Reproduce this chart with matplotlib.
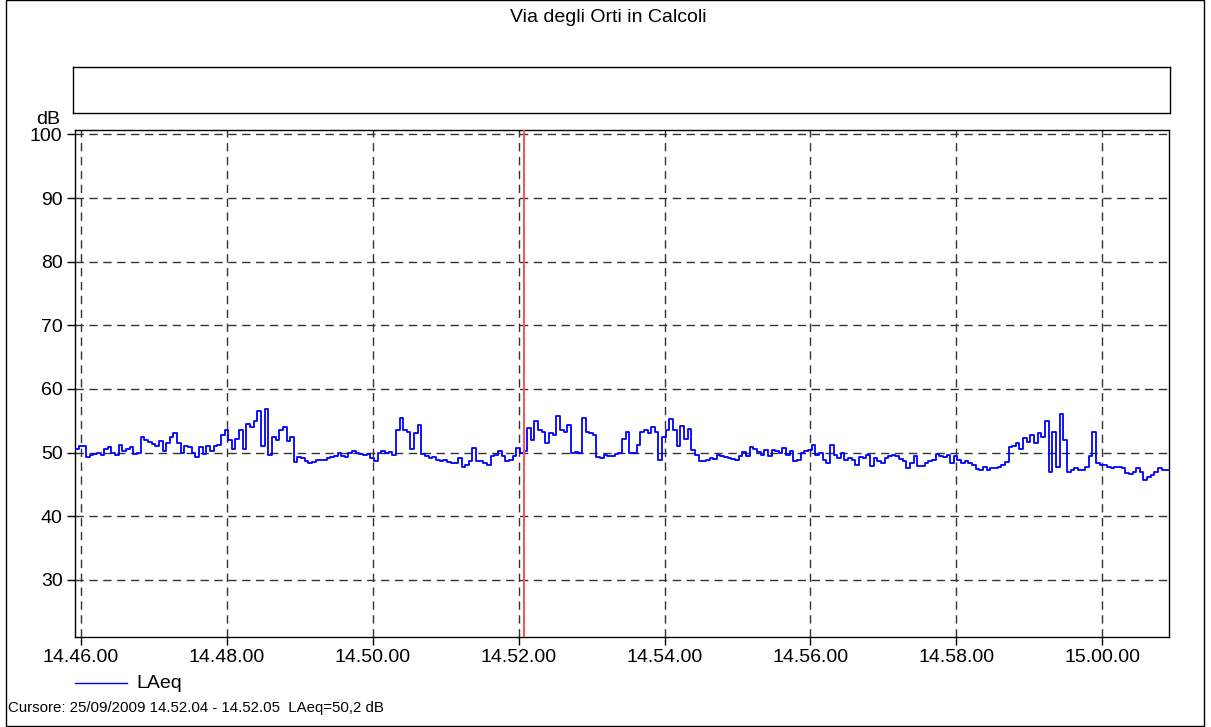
import matplotlib
matplotlib.use("Agg")
import matplotlib.pyplot as plt
from matplotlib.lines import Line2D
from matplotlib.patches import Rectangle

plt.rcParams["font.family"] = ["Liberation Sans", "DejaVu Sans"]

# ---- data -----------------------------------------------------------------
title = "Via degli Orti in Calcoli"
start_time = "14.45.55"      # first sample
step_s = 3                   # seconds between samples
laeq = [
    50.5, 51.1, 51.0, 49.3, 49.6, 49.8, 50.0, 49.6, 50.6, 50.8,
    50.0, 49.6, 51.2, 50.3, 50.5, 50.8, 49.8, 49.9, 52.5, 52.0,
    51.7, 51.4, 51.0, 51.8, 50.2, 51.5, 52.4, 53.0, 51.5, 50.0,
    51.0, 50.8, 49.9, 49.3, 50.8, 49.8, 51.0, 50.3, 51.0, 51.2,
    52.8, 53.6, 52.0, 50.5, 52.2, 53.5, 50.5, 54.5, 54.0, 54.9,
    56.5, 51.0, 56.8, 49.6, 52.5, 52.0, 53.5, 54.0, 51.8, 52.5,
    48.5, 49.3, 49.2, 48.7, 48.4, 48.5, 48.8, 48.9, 48.8, 49.1,
    49.3, 49.5, 50.0, 49.5, 49.3, 50.0, 50.2, 50.0, 49.7, 49.6,
    49.8, 49.2, 48.6, 49.9, 50.2, 50.0, 50.1, 49.6, 53.5, 55.5,
    53.6, 53.2, 50.5, 53.0, 54.3, 49.8, 49.4, 49.1, 49.3, 48.9,
    48.7, 48.9, 48.5, 48.4, 48.3, 49.2, 47.8, 48.0, 48.6, 50.7,
    48.6, 48.7, 48.4, 48.0, 49.4, 49.6, 50.2, 49.5, 48.7, 48.8,
    49.4, 50.7, 50.0, 50.2, 53.8, 52.0, 55.0, 53.5, 53.3, 51.5,
    53.0, 52.8, 55.8, 53.6, 53.3, 54.3, 50.0, 50.1, 49.9, 55.5,
    53.3, 53.0, 52.8, 49.3, 49.1, 49.6, 49.4, 49.5, 49.8, 49.9,
    52.2, 53.3, 49.9, 50.0, 51.2, 53.2, 53.6, 53.0, 54.0, 53.2,
    48.8, 52.5, 53.6, 55.3, 53.5, 51.0, 54.1, 52.2, 53.7, 50.4,
    49.6, 48.7, 48.6, 48.9, 49.2, 49.0, 49.6, 49.4, 49.3, 49.1,
    49.0, 48.8, 49.5, 50.1, 49.4, 50.8, 50.6, 50.1, 49.6, 50.4,
    49.4, 50.4, 50.3, 49.9, 50.7, 49.6, 50.3, 48.6, 48.8, 49.9,
    50.3, 50.4, 51.2, 49.6, 49.9, 48.8, 48.3, 51.2, 49.6, 49.1,
    49.9, 48.8, 49.1, 48.9, 48.1, 49.3, 49.1, 49.6, 47.9, 49.2,
    48.6, 48.3, 49.2, 49.4, 49.6, 49.4, 49.0, 48.6, 47.6, 48.4,
    49.4, 47.9, 47.9, 48.4, 48.6, 48.9, 49.8, 49.4, 49.3, 49.6,
    48.4, 49.4, 48.9, 48.4, 48.6, 48.4, 48.1, 47.4, 47.3, 47.8,
    47.3, 47.5, 47.5, 47.7, 48.0, 48.5, 50.9, 51.0, 51.5, 50.6,
    52.3, 51.7, 52.8, 51.5, 53.0, 52.5, 54.9, 47.0, 53.3, 47.8,
    56.1, 52.0, 47.0, 47.3, 47.5, 47.3, 47.3, 47.7, 49.5, 53.3,
    48.3, 48.0, 48.0, 47.7, 47.5, 47.7, 47.8, 47.5, 46.8, 46.6,
    47.0, 47.5, 47.0, 45.7, 46.1, 46.5, 47.0, 47.5, 47.2, 47.3,
    47.3,
]
x_tick_labels = ["14.46.00", "14.48.00", "14.50.00", "14.52.00",
                 "14.54.00", "14.56.00", "14.58.00", "15.00.00"]
y_ticks = [30, 40, 50, 60, 70, 80, 90, 100]
series_name = "LAeq"
cursor_date = "25/09/2009"
cursor_from = "14.52.04"
cursor_to = "14.52.05"
cursor_value = 50.2


def to_seconds(hms):
    h, m, s = (int(p) for p in hms.split("."))
    return h * 3600 + m * 60 + s


t0 = to_seconds(start_time)
times = [t0 + i * step_s for i in range(len(laeq))]
tick_pos = [to_seconds(lbl) for lbl in x_tick_labels]

# ---- figure -----------------------------------------------------------------
W, H = 1211, 727
fig = plt.figure(figsize=(W / 100, H / 100), dpi=100)


def fx(px):
    return px / W


def fy(py):
    return 1 - py / H


# empty header box above the plot
box = fig.add_axes([fx(73), fy(113), fx(1170) - fx(73), fy(67) - fy(113)])
box.set_xticks([])
box.set_yticks([])
for sp in box.spines.values():
    sp.set_linewidth(1.0)
    sp.set_color("black")

ax = fig.add_axes([fx(75), fy(637), fx(1169) - fx(75), fy(130) - fy(637)])
line, = ax.plot(times, laeq, drawstyle="steps-post", color="#0000ff", lw=1.3,
                zorder=3)
ax.axvline(to_seconds(cursor_from), color="#f05a5a", lw=1.5, zorder=4)

ax.set_xlim(t0, t0 + 900)
ax.set_ylim(21.0, 100.7)
ax.set_xticks(tick_pos)
ax.set_xticklabels(x_tick_labels)
ax.set_yticks(y_ticks)
ax.set_yticklabels([str(v) for v in y_ticks])
ax.tick_params(direction="out", length=6, width=1, labelsize=14,
               colors="black", pad=3)
ax.grid(True, color="#333333", linestyle=(0, (6, 4)), lw=1.0, zorder=1)
for sp in ax.spines.values():
    sp.set_linewidth(1.0)
    sp.set_color("black")

fig.text(fx(48), fy(120), "dB", ha="center", va="center", fontsize=14)
fig.text(fx(608), fy(18), title, ha="center", va="center", fontsize=14)

# legend entry under the plot
fig.add_artist(Line2D([fx(75), fx(127)], [fy(683), fy(683)],
                      color="#0000ff", lw=1.0))
fig.text(fx(136), fy(684), series_name, ha="left", va="center", fontsize=14)

value_txt = f"{cursor_value:.1f}".replace(".", ",")
cursor_text = (f"Cursore: {cursor_date} {cursor_from} - {cursor_to}  "
               f"{series_name}={value_txt} dB")
fig.text(fx(8), fy(708), cursor_text, ha="left", va="center", fontsize=10.8)

# outer frame
fig.add_artist(Rectangle((fx(6), fy(726)), fx(1204) - fx(6), fy(0) - fy(726),
                         fill=False, edgecolor="black", lw=1.0,
                         transform=fig.transFigure))

fig.savefig("out.png", dpi=100)
